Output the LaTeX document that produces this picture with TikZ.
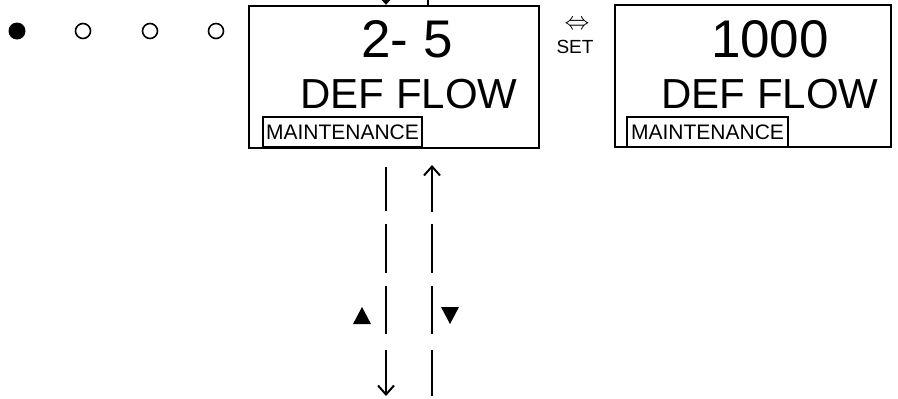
\documentclass[tikz,border=0pt]{standalone}
\usepackage{fontspec}
\setmainfont{Liberation Sans}
\usetikzlibrary{arrows.meta}
\begin{document}
\begin{tikzpicture}[x=1pt,y=-1pt,
  screen/.style={draw, line width=2.4pt, inner sep=0pt},
  tagbox/.style={draw, line width=1.8pt, inner sep=0pt, minimum height=30pt, font=\fontsize{21}{21}\selectfont},
  bigtxt/.style={anchor=base, inner sep=0pt, font=\fontsize{53}{53}\selectfont},
  midtxt/.style={anchor=base, inner sep=0pt, font=\fontsize{42}{42}\selectfont},
  dot/.style={circle, inner sep=0pt, line width=1.6pt},
  flow/.style={line width=2.2pt},
  flowarrow/.style={line width=2.2pt, -{Straight Barb[length=9pt,width=16pt,line width=2pt]}},
]
\useasboundingbox (0,0) rectangle (898,399);
% status dots
\node[dot, fill, minimum size=17pt] (d1) at (17,31) {};
\node[dot, draw, minimum size=15pt] (d2) at (83,31) {};
\node[dot, draw, minimum size=15pt] (d3) at (150,31) {};
\node[dot, draw, minimum size=15pt] (d4) at (216,31) {};
% screens
\node[screen, minimum width=290pt, minimum height=142pt] (s1) at (394,77) {};
\node[screen, minimum width=276pt, minimum height=142pt] (s2) at (753,76) {};
\node[bigtxt] (v1) at (407,57) {2- 5};
\node[midtxt] (l1) at (409,108) {DEF FLOW};
\node[tagbox, minimum width=159pt] (m1) at (342.5,132) {MAINTENANCE};
\node[bigtxt] (v2) at (770,57) {1000};
\node[midtxt] (l2) at (770,108) {DEF FLOW};
\node[tagbox, minimum width=161pt] (m2) at (707.5,132) {MAINTENANCE};
% set key
\node[inner sep=0pt, font=\fontsize{28}{28}\selectfont] (lr) at (577,25) {$\Leftrightarrow$};
\node[inner sep=0pt, font=\fontsize{19}{19}\selectfont] (set) at (575,47) {SET};
% top connectors
\coordinate (tin) at (386,-12);
\coordinate (tout) at (428,-12);
\draw[flowarrow] (tin) -- (s1.north -| tin);
\draw[flow] (s1.north -| tout) -- (tout);
% vertical dashed arrows
\coordinate (a1) at (386,167); \coordinate (a2) at (386,211);
\coordinate (a3) at (386,224); \coordinate (a4) at (386,273);
\coordinate (a5) at (386,286); \coordinate (a6) at (386,334);
\coordinate (a7) at (386,350); \coordinate (a8) at (386,396);
\draw[flow] (a1) -- (a2);
\draw[flow] (a3) -- (a4);
\draw[flow] (a5) -- (a6);
\draw[flowarrow] (a7) -- (a8);
\coordinate (b1) at (432,212); \coordinate (b2) at (432,165);
\coordinate (b3) at (432,224); \coordinate (b4) at (432,273);
\coordinate (b5) at (432,286); \coordinate (b6) at (432,334);
\coordinate (b7) at (432,350); \coordinate (b8) at (432,396);
\draw[flowarrow] (b1) -- (b2);
\draw[flow] (b3) -- (b4);
\draw[flow] (b5) -- (b6);
\draw[flow] (b7) -- (b8);
% key triangles
\fill (353,324) -- (371,324) -- (362,307) -- cycle;
\fill (441,307) -- (459,307) -- (450,324) -- cycle;
\end{tikzpicture}
\end{document}
